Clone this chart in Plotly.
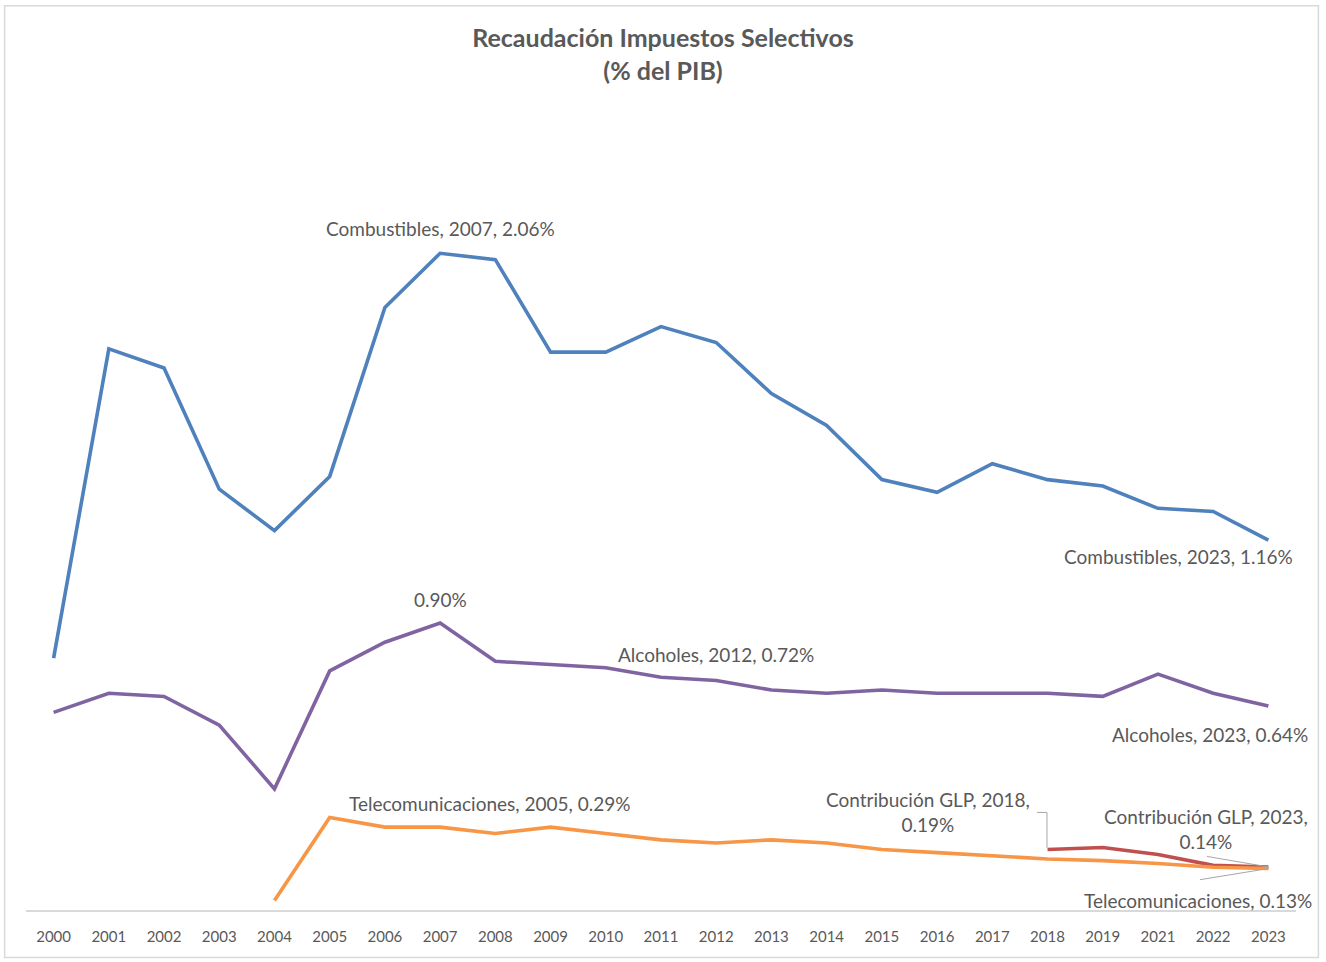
import plotly.graph_objects as go

years = ["2000","2001","2002","2003","2004","2005","2006","2007","2008","2009","2010",
         "2011","2012","2013","2014","2015","2016","2017","2018","2019","2021","2022","2023"]

combustibles = [0.79, 1.76, 1.70, 1.32, 1.19, 1.36, 1.89, 2.06, 2.04, 1.75, 1.75,
                1.83, 1.78, 1.62, 1.52, 1.35, 1.31, 1.40, 1.35, 1.33, 1.26, 1.25, 1.16]
alcoholes = [0.62, 0.68, 0.67, 0.58, 0.38, 0.75, 0.84, 0.90, 0.78, 0.77, 0.76,
             0.73, 0.72, 0.69, 0.68, 0.69, 0.68, 0.68, 0.68, 0.67, 0.74, 0.68, 0.64]
telecom = [None, None, None, None, 0.03, 0.29, 0.26, 0.26, 0.24, 0.26, 0.24,
           0.22, 0.21, 0.22, 0.21, 0.19, 0.18, 0.17, 0.16, 0.155, 0.146, 0.134, 0.13]
glp = [None]*18 + [0.19, 0.196, 0.174, 0.14, 0.135]

COL_COMB = "#4F81BD"
COL_ALC = "#8064A2"
COL_TEL = "#F79646"
COL_GLP = "#C0504D"
TXT = "#595959"
LEAD = "#A6A6A6"
FONT = "Lato"

xi = list(range(len(years)))

fig = go.Figure()
for name, vals, col in [("Combustibles", combustibles, COL_COMB),
                        ("Alcoholes", alcoholes, COL_ALC),
                        ("Contribución GLP", glp, COL_GLP),
                        ("Telecomunicaciones", telecom, COL_TEL)]:
    fig.add_trace(go.Scatter(x=xi, y=vals, mode="lines", name=name,
                             line=dict(color=col, width=3.6), connectgaps=False))

def idx(y):
    return years.index(y)

lab_font = dict(family=FONT, size=19, color=TXT)
anns = [
    ("2007", combustibles, "Combustibles, 2007, 2.06%", 0, -25),
    ("2023", combustibles, "Combustibles, 2023, 1.16%", -90, 16),
    ("2007", alcoholes, "0.90%", 0, -24),
    ("2012", alcoholes, "Alcoholes, 2012, 0.72%", 0, -26),
    ("2023", alcoholes, "Alcoholes, 2023, 0.64%", -58, 29),
    ("2005", telecom, "Telecomunicaciones, 2005, 0.29%", 160, -14),
    ("2018", glp, "Contribución GLP, 2018,<br>0.19%", -120, -37),
    ("2023", glp, "Contribución GLP, 2023,<br>0.14%", -62, -38),
    ("2023", telecom, "Telecomunicaciones, 0.13%", -70, 32),
]
for yr, arr, text, ax, ay in anns:
    i = idx(yr)
    fig.add_annotation(x=i, y=arr[i], xref="x", yref="y", text=text,
                       showarrow=True, arrowhead=0, arrowwidth=1,
                       arrowcolor="rgba(0,0,0,0)",
                       ax=ax, ay=ay, font=lab_font, align="center")

# leader lines
i18 = idx("2018")
fig.add_shape(type="path", xref="x", yref="y",
              path=f"M {i18-0.19},{glp[i18]+0.116} L {i18-0.01},{glp[i18]+0.116} L {i18-0.01},{glp[i18]+0.005}",
              line=dict(color=LEAD, width=1))
i23 = idx("2023")
fig.add_shape(type="line", xref="x", yref="y",
              x0=i23 - 1.11, y0=glp[i23] + 0.033, x1=i23, y1=glp[i23],
              line=dict(color=LEAD, width=1))
fig.add_shape(type="line", xref="x", yref="y",
              x0=i23 - 1.24, y0=telecom[i23] - 0.035, x1=i23, y1=telecom[i23],
              line=dict(color=LEAD, width=1))

W, H = 1326, 962
ml, mr, mt, mb = 26.4, 30.4, 112.5, 51.5
pw, ph = W - ml - mr, H - mt - mb
# outer chart border
fig.add_shape(type="rect", xref="paper", yref="paper",
              x0=(5 - ml) / pw, x1=(1318 - ml) / pw,
              y0=(H - mb - 958) / ph, y1=(H - mb - 5) / ph,
              line=dict(color="#D9D9D9", width=1.5), fillcolor="rgba(0,0,0,0)", layer="below")

fig.update_layout(
    width=W, height=H,
    margin=dict(l=ml, r=mr, t=mt, b=mb),
    paper_bgcolor="white", plot_bgcolor="white",
    showlegend=False,
    title=dict(text="<b>Recaudación Impuestos Selectivos<br>(% del PIB)</b>",
               x=0.5, xanchor="center", y=(H - 47) / H, yanchor="middle",
               font=dict(family=FONT, size=25, color=TXT)),
    xaxis=dict(range=[-0.5, 22.5], tickmode="array", tickvals=xi, ticktext=years,
               showgrid=False, zeroline=False, showline=True, linecolor="#D9D9D9", linewidth=1.5,
               ticks="", ticklabelstandoff=12,
               tickfont=dict(family=FONT, size=15, color=TXT)),
    yaxis=dict(range=[0, 2.5], visible=False, showgrid=False, zeroline=False),
)

fig.write_html("out.html", config={"displayModeBar": False},
               post_script="document.body.style.margin='0';")
